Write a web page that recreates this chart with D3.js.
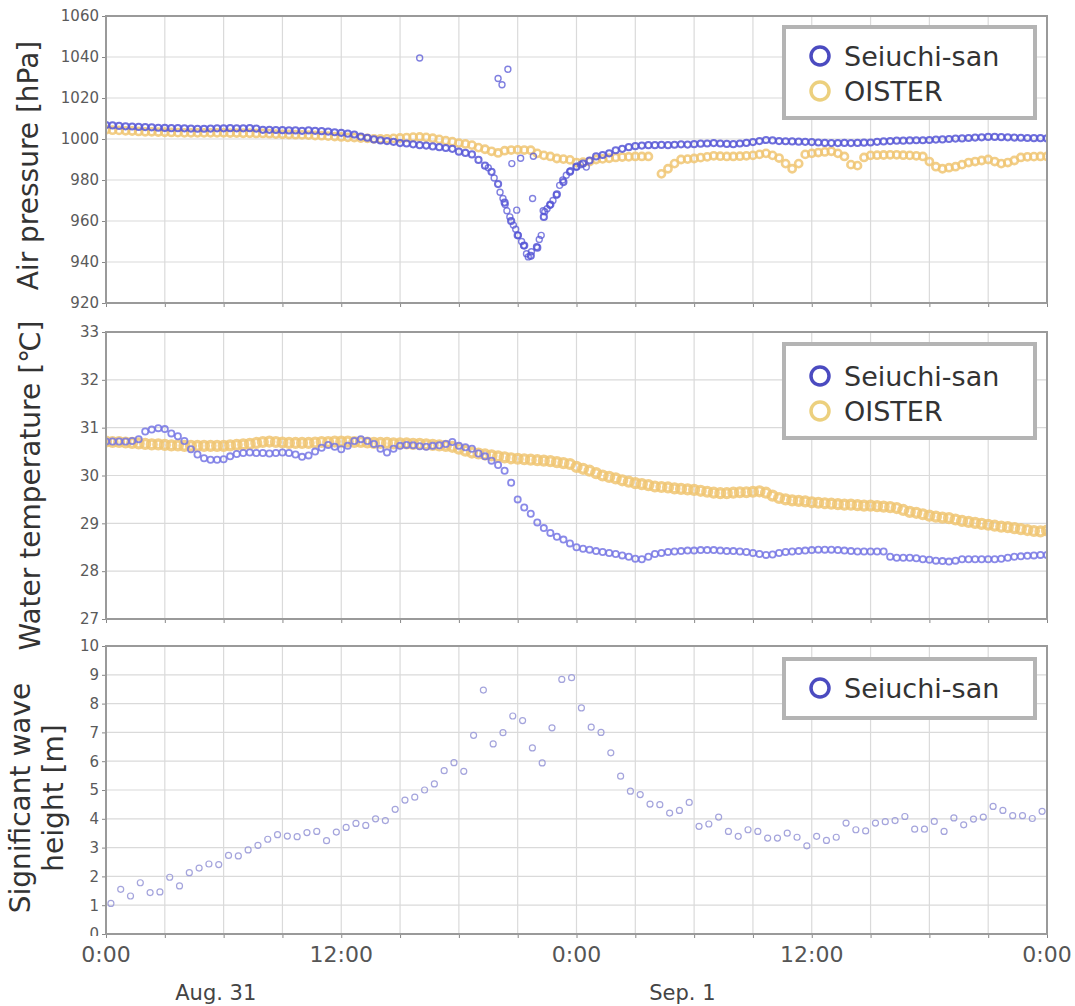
<!DOCTYPE html>
<html>
<head>
<meta charset="utf-8">
<script src="https://cdn.jsdelivr.net/npm/d3@7"></script>
<style>
    body { margin: 0; background: #fff; }
    svg text { font-family: 'DejaVu Sans', Verdana, sans-serif; }
</style>
</head>
<body>
<div id="chart"></div>
<script>
//Colores fijos
const COLOR_SEIUCHI = '#5656d6',
    COLOR_SEIUCHI_LIGHT = '#7676e4',
    COLOR_WAVE = '#9a9ad8',
    COLOR_OISTER = '#f0c673',
    COLOR_LEGEND_BLUE = '#4b4bc0',
    COLOR_LEGEND_ORANGE = '#ecd07e';

//Datos: series cada 20 minutos (h = i / 3) desde 0:00 Aug. 31 hasta 0:00 Sep. 2
const STEP_H = 1 / 3;

const pressureSeiuchi = [
    1006.8, 1006.6, 1006.4, 1006.2, 1006.1, 1005.9, 1005.8, 1005.7, 1005.5, 1005.4, 1005.3, 1005.3,
    1005.2, 1005.1, 1005.0, 1005.0, 1005.1, 1005.2, 1005.2, 1005.3, 1005.2, 1005.2, 1005.3, 1005.1,
    1004.5, 1004.5, 1004.4, 1004.3, 1004.2, 1004.2, 1004.0, 1004.2, 1004.0, 1003.8, 1003.6, 1003.3,
    1003.0, 1002.6, 1002.2, 1001.2, 1000.6, 999.8, 999.3, 999.0, 998.6, 998.0, 997.8, 997.4,
    997.0, 996.8, 996.4, 996.0, 995.6, 995.2, 993.8, 993.2, 992.5, 989.8, 987.0, 984.0,
    978.0, 969.0, 960.0, 953.0, 948.0, 943.0, 947.0, 962.0, 968.0, 973.0, 979.0, 984.0,
    986.5, 988.0, 989.5, 991.5, 992.2, 993.0, 994.5, 995.2, 996.0, 996.5, 996.8, 997.0,
    997.0, 997.1, 997.0, 997.2, 997.4, 997.3, 997.5, 997.7, 997.8, 998.0, 997.8, 997.6,
    997.5, 997.8, 998.1, 998.5, 999.0, 999.5, 999.3, 999.0, 998.9, 998.8, 998.7, 998.6,
    998.5, 998.3, 998.1, 998.0, 998.0, 998.1, 998.0, 998.1, 998.2, 998.3, 998.6, 998.8,
    999.0, 999.2, 999.2, 999.3, 999.4, 999.4, 999.5, 999.7, 999.8, 1000.0, 1000.2, 1000.3,
    1000.5, 1000.7, 1000.8, 1001.0, 1001.0, 1000.9, 1000.8, 1000.7, 1000.6, 1000.5, 1000.4, 1000.4,
    1000.3
];

//Puntos sueltos del tifón y valores atípicos [hora, hPa]
const pressureSeiuchiExtra = [
    [16.0, 1039.5], [20.0, 1029.5], [20.2, 1026.5], [20.5, 1034.0],
    [20.1, 974.0], [20.36, 968.0], [20.6, 962.0], [20.78, 958.0], [21.03, 953.0], [21.3, 948.0],
    [21.54, 942.5], [21.96, 947.5], [22.2, 953.0], [22.38, 964.5], [22.64, 967.7], [22.97, 972.6],
    [23.14, 977.4], [23.48, 982.3], [23.99, 986.3],
    [20.7, 988.0], [21.15, 990.6], [21.8, 991.6], [21.76, 971.0], [20.95, 965.3], [24.5, 986.3],
    [21.45, 944.0], [21.7, 945.0], [22.3, 965.0], [22.5, 966.0], [20.45, 965.0],
    [19.5, 986.0], [19.8, 981.0], [20.25, 971.0], [20.9, 956.0], [21.2, 950.0], [22.1, 951.0],
    [22.8, 970.0], [23.3, 980.0], [23.7, 984.5], [24.2, 987.5]
];

const pressureOister = [
    1004.5, 1004.3, 1004.2, 1004.0, 1003.9, 1003.7, 1003.5, 1003.5, 1003.4, 1003.3, 1003.2, 1003.1,
    1003.0, 1003.0, 1003.0, 1003.0, 1003.0, 1003.0, 1003.0, 1002.9, 1002.9, 1002.8, 1002.8, 1002.7,
    1002.7, 1002.6, 1002.4, 1002.3, 1002.2, 1002.1, 1002.0, 1001.9, 1001.7, 1001.6, 1001.4, 1001.2,
    1001.0, 1000.8, 1000.7, 1000.5, 1000.3, 1000.1, 1000.0, 1000.1, 1000.3, 1000.5, 1000.7, 1000.9,
    1001.0, 1000.8, 1000.4, 999.8, 999.2, 998.7, 998.0, 997.6, 997.0, 995.8, 995.0, 994.0,
    993.2, 994.3, 994.6, 994.7, 994.6, 994.5, 993.0, 992.0, 991.5, 990.5, 990.2, 989.8,
    988.5, 988.7, 989.0, 990.0, 990.3, 990.6, 991.0, 991.2, 991.3, 991.5, 991.5, 991.5,
    null, 983.0, 985.5, 988.0, 990.0, 990.2, 990.5, 990.9, 991.3, 991.8, 991.6, 991.5,
    991.5, 991.6, 991.8, 992.0, 992.5, 993.0, 992.0, 990.7, 988.0, 985.5, 988.0, 992.5,
    993.0, 993.4, 993.7, 994.0, 993.0, 991.5, 987.5, 987.0, 991.0, 992.0, 992.1, 992.2,
    992.3, 992.3, 992.1, 992.0, 991.8, 991.5, 989.0, 986.5, 985.5, 986.0, 986.5, 987.5,
    988.5, 989.0, 989.5, 990.0, 989.0, 988.0, 988.5, 989.5, 991.0, 991.3, 991.4, 991.5,
    991.5
];

const tempSeiuchi = [
    30.71, 30.71, 30.71, 30.71, 30.72, 30.76, 30.92, 30.96, 30.99, 30.97, 30.88, 30.82,
    30.72, 30.55, 30.44, 30.36, 30.33, 30.33, 30.34, 30.40, 30.45, 30.47, 30.48, 30.47,
    30.47, 30.46, 30.47, 30.48, 30.47, 30.44, 30.39, 30.42, 30.50, 30.58, 30.64, 30.60,
    30.55, 30.62, 30.72, 30.76, 30.72, 30.66, 30.56, 30.48, 30.56, 30.62, 30.64, 30.63,
    30.61, 30.60, 30.62, 30.63, 30.66, 30.70, 30.62, 30.59, 30.56, 30.46, 30.40, 30.31,
    30.22, 30.10, 29.85, 29.50, 29.33, 29.20, 29.02, 28.90, 28.80, 28.72, 28.66, 28.58,
    28.50, 28.47, 28.45, 28.42, 28.40, 28.38, 28.36, 28.33, 28.30, 28.26, 28.25, 28.30,
    28.36, 28.38, 28.40, 28.41, 28.42, 28.43, 28.43, 28.44, 28.44, 28.44, 28.43, 28.42,
    28.42, 28.41, 28.40, 28.38, 28.36, 28.34, 28.35, 28.38, 28.40, 28.41, 28.42, 28.43,
    28.44, 28.45, 28.45, 28.45, 28.44, 28.43, 28.42, 28.41, 28.41, 28.41, 28.41, 28.41,
    28.30, 28.28, 28.28, 28.28, 28.27, 28.25, 28.24, 28.22, 28.21, 28.20, 28.22, 28.25,
    28.25, 28.25, 28.25, 28.25, 28.25, 28.26, 28.28, 28.30, 28.31, 28.32, 28.33, 28.34,
    28.34
];

const tempOister = [
    30.71, 30.70, 30.70, 30.69, 30.68, 30.67, 30.66, 30.65, 30.65, 30.64, 30.63, 30.63,
    30.62, 30.62, 30.62, 30.62, 30.62, 30.62, 30.62, 30.63, 30.64, 30.65, 30.66, 30.68,
    30.70, 30.71, 30.70, 30.69, 30.68, 30.68, 30.68, 30.68, 30.69, 30.70, 30.70, 30.71,
    30.71, 30.71, 30.70, 30.70, 30.69, 30.68, 30.68, 30.68, 30.67, 30.67, 30.67, 30.66,
    30.66, 30.65, 30.64, 30.63, 30.62, 30.60, 30.56, 30.52, 30.48, 30.46, 30.44, 30.42,
    30.40, 30.38, 30.36, 30.35, 30.34, 30.33, 30.32, 30.31, 30.30, 30.28, 30.26, 30.24,
    30.18, 30.14, 30.10, 30.05, 30.00, 29.97, 29.94, 29.90, 29.87, 29.84, 29.82, 29.80,
    29.77, 29.76, 29.75, 29.73, 29.72, 29.71, 29.70, 29.68, 29.66, 29.64, 29.63, 29.63,
    29.64, 29.65, 29.65, 29.66, 29.67, 29.64, 29.58, 29.53, 29.50, 29.48, 29.47, 29.46,
    29.44, 29.43, 29.42, 29.41, 29.40, 29.39, 29.39, 29.38, 29.37, 29.37, 29.36, 29.35,
    29.34, 29.32, 29.28, 29.24, 29.22, 29.19, 29.16, 29.14, 29.12, 29.11, 29.08, 29.05,
    29.03, 29.01, 28.99, 28.97, 28.95, 28.93, 28.92, 28.90, 28.88, 28.86, 28.84, 28.83,
    28.85
];

//Altura de ola cada 30 minutos desde las 0:15
const WAVE_T0 = 0.25, WAVE_STEP = 0.5;
const waveSeiuchi = [
    1.06, 1.55, 1.32, 1.78, 1.44, 1.46, 1.97, 1.67, 2.13, 2.29, 2.43, 2.41, 2.73, 2.71, 2.92, 3.08,
    3.29, 3.45, 3.40, 3.38, 3.52, 3.56, 3.24, 3.54, 3.70, 3.84, 3.77, 4.00, 3.94, 4.33, 4.65, 4.75,
    5.00, 5.21, 5.67, 5.95, 5.65, 6.90, 8.47, 6.60, 6.99, 7.57, 7.41, 6.46, 5.94, 7.16, 8.84, 8.90,
    7.85, 7.18, 7.00, 6.29, 5.48, 4.96, 4.84, 4.51, 4.49, 4.20, 4.29, 4.57, 3.74, 3.82, 4.06, 3.56,
    3.39, 3.62, 3.56, 3.33, 3.33, 3.50, 3.36, 3.06, 3.39, 3.25, 3.36, 3.85, 3.62, 3.58, 3.85, 3.90,
    3.94, 4.08, 3.64, 3.64, 3.91, 3.56, 4.03, 3.79, 3.99, 4.06, 4.43, 4.29, 4.11, 4.11, 4.01, 4.26
];

//Ejes
const pressureTicks = [920, 940, 960, 980, 1000, 1020, 1040, 1060];
const tempTicks = [27, 28, 29, 30, 31, 32, 33];
const waveTicks = [0, 1, 2, 3, 4, 5, 6, 7, 8, 9, 10];
const hourTicks = [0, 12, 24, 36, 48];
const hourLabels = ['0:00', '12:00', '0:00', '12:00', '0:00'];
const dayLabels = ['Aug. 31', 'Sep. 1'];
const dayLabelHours = [5.6, 29.4];

//Desarrollo del gráfico
let width = 1075, height = 1006;
let margin = {left: 106, right: 28};

let svg = d3.select('#chart')
    .append('svg')
        .attr('width', width)
        .attr('height', height);

let x = d3.scaleLinear()
    .domain([0, 48])
    .range([margin.left, width - margin.right]);

function toPoints(values, t0, step) {
    return values
        .map(function(v, i) { return {h: t0 + i * step, v: v}; })
        .filter(function(d) { return d.v != null; });
}

function drawPanel(cfg, idx) {
    let y = d3.scaleLinear()
        .domain(cfg.domain)
        .range([cfg.bottom, cfg.top]);

    let g = svg.append('g');

    //Rejilla
    g.append('g')
        .selectAll('line')
        .data(d3.range(0, 49, 3))
        .enter()
        .append('line')
        .attr('x1', function(d) { return x(d); })
        .attr('x2', function(d) { return x(d); })
        .attr('y1', cfg.top)
        .attr('y2', cfg.bottom)
        .attr('stroke', '#dadada')
        .attr('stroke-width', 1.2);

    g.append('g')
        .selectAll('line')
        .data(cfg.ticks)
        .enter()
        .append('line')
        .attr('x1', x(0))
        .attr('x2', x(48))
        .attr('y1', function(d) { return y(d); })
        .attr('y2', function(d) { return y(d); })
        .attr('stroke', '#dadada')
        .attr('stroke-width', 1.2);

    //Eje Y
    let yAxis = g.append('g')
        .attr('transform', 'translate(' + x(0) + ',0)')
        .call(d3.axisLeft(y).tickValues(cfg.ticks).tickFormat(d3.format('d')).tickSize(4).tickPadding(3));
    yAxis.select('.domain').remove();
    yAxis.selectAll('.tick line').attr('stroke', '#888');
    yAxis.selectAll('text')
        .attr('font-size', 15)
        .attr('fill', '#5a5a5a')
        .style('font-family', "'DejaVu Sans', Verdana, sans-serif");

    //Marcas del eje X
    let xAxis = g.append('g')
        .attr('transform', 'translate(0,' + cfg.bottom + ')')
        .call(d3.axisBottom(x).tickValues(d3.range(0, 49, 3)).tickSize(4).tickFormat(''));
    xAxis.select('.domain').remove();
    xAxis.selectAll('.tick line').attr('stroke', '#888');

    //Series
    let clipId = 'clip' + idx;
    svg.append('clipPath')
        .attr('id', clipId)
        .append('rect')
        .attr('x', x(0))
        .attr('y', cfg.top)
        .attr('width', x(48) - x(0))
        .attr('height', cfg.bottom - cfg.top);

    cfg.series.forEach(function(s) {
        g.append('g')
            .attr('clip-path', 'url(#' + clipId + ')')
            .selectAll('circle')
            .data(s.points)
            .enter()
            .append('circle')
            .attr('cx', function(d) { return x(d.h); })
            .attr('cy', function(d) { return y(d.v); })
            .attr('r', s.r)
            .attr('fill', 'none')
            .attr('stroke', s.color)
            .attr('stroke-width', s.sw)
            .attr('stroke-opacity', s.op);
    });

    //Marco
    g.append('rect')
        .attr('x', x(0))
        .attr('y', cfg.top)
        .attr('width', x(48) - x(0))
        .attr('height', cfg.bottom - cfg.top)
        .attr('fill', 'none')
        .attr('stroke', '#9a9a9a')
        .attr('stroke-width', 2);

    //Título del eje
    cfg.title.forEach(function(t) {
        g.append('text')
            .attr('transform', 'translate(' + t.x + ',' + ((cfg.top + cfg.bottom) / 2 + cfg.titleShift) + ') rotate(-90)')
            .attr('text-anchor', 'middle')
            .attr('font-size', 28)
            .attr('fill', '#333')
            .text(t.text);
    });

    //Leyenda
    let lg = cfg.legend;
    let leg = g.append('g').attr('transform', 'translate(' + lg.x + ',' + lg.y + ')');
    leg.append('rect')
        .attr('width', lg.w)
        .attr('height', lg.h)
        .attr('fill', '#fff')
        .attr('stroke', '#b4b4b4')
        .attr('stroke-width', 4);
    lg.items.forEach(function(it, i) {
        let cy = lg.first + i * 35;
        leg.append('circle')
            .attr('cx', 36)
            .attr('cy', cy)
            .attr('r', 9)
            .attr('fill', 'none')
            .attr('stroke', it.color)
            .attr('stroke-width', 3.5);
        leg.append('text')
            .attr('x', 60)
            .attr('y', cy + 10)
            .attr('font-size', 27)
            .attr('fill', '#333')
            .text(it.label);
    });

    return y;
}

let panels = [
    {
        top: 16, bottom: 303, domain: [920, 1060], ticks: pressureTicks,
        title: [{x: 38, text: 'Air pressure [hPa]'}], titleShift: 6,
        series: [
            {points: toPoints(pressureOister, 0, STEP_H), color: COLOR_OISTER, r: 3.6, sw: 2.6, op: 0.85},
            {points: toPoints(pressureSeiuchi, 0, STEP_H), color: COLOR_SEIUCHI, r: 3.1, sw: 2, op: 0.85},
            {points: pressureSeiuchiExtra.map(function(d) { return {h: d[0], v: d[1]}; }), color: COLOR_SEIUCHI, r: 3, sw: 1.4, op: 0.75}
        ],
        legend: {x: 784, y: 27, w: 251, h: 91, first: 29,
            items: [{label: 'Seiuchi-san', color: COLOR_LEGEND_BLUE}, {label: 'OISTER', color: COLOR_LEGEND_ORANGE}]}
    },
    {
        top: 332, bottom: 619, domain: [27, 33], ticks: tempTicks,
        title: [{x: 40, text: 'Water temperature [℃]'}], titleShift: 10,
        series: [
            {points: toPoints(tempOister, 0, STEP_H), color: COLOR_OISTER, r: 4.4, sw: 3.4, op: 0.85},
            {points: toPoints(tempSeiuchi, 0, STEP_H), color: COLOR_SEIUCHI_LIGHT, r: 3.1, sw: 1.8, op: 0.85}
        ],
        legend: {x: 784, y: 344, w: 251, h: 94, first: 32,
            items: [{label: 'Seiuchi-san', color: COLOR_LEGEND_BLUE}, {label: 'OISTER', color: COLOR_LEGEND_ORANGE}]}
    },
    {
        top: 646, bottom: 934, domain: [0, 10], ticks: waveTicks,
        title: [{x: 30, text: 'Significant wave'}, {x: 63, text: 'height [m]'}], titleShift: 8,
        series: [
            {points: toPoints(waveSeiuchi, WAVE_T0, WAVE_STEP), color: COLOR_WAVE, r: 3, sw: 1.2, op: 0.9}
        ],
        legend: {x: 784, y: 659, w: 251, h: 59, first: 29,
            items: [{label: 'Seiuchi-san', color: COLOR_LEGEND_BLUE}]}
    }
];

panels.forEach(function(p, i) { drawPanel(p, i); });

//Etiquetas de horas y días
let lastBottom = panels[2].bottom;

//La etiqueta "0" del último panel queda medio tapada
svg.append('rect')
    .attr('x', 60).attr('y', lastBottom + 2)
    .attr('width', x(0) - 62).attr('height', 14)
    .attr('fill', '#fff');

svg.append('g')
    .selectAll('text')
    .data(hourTicks)
    .enter()
    .append('text')
    .attr('x', function(d) { return x(d); })
    .attr('y', lastBottom + 28)
    .attr('text-anchor', 'middle')
    .attr('font-size', 22)
    .attr('fill', '#555')
    .text(function(d, i) { return hourLabels[i]; });

svg.append('g')
    .selectAll('text')
    .data(dayLabels)
    .enter()
    .append('text')
    .attr('x', function(d, i) { return x(dayLabelHours[i]); })
    .attr('y', lastBottom + 66)
    .attr('text-anchor', 'middle')
    .attr('font-size', 21)
    .attr('fill', '#444')
    .text(function(d) { return d; });
</script>
</body>
</html>
